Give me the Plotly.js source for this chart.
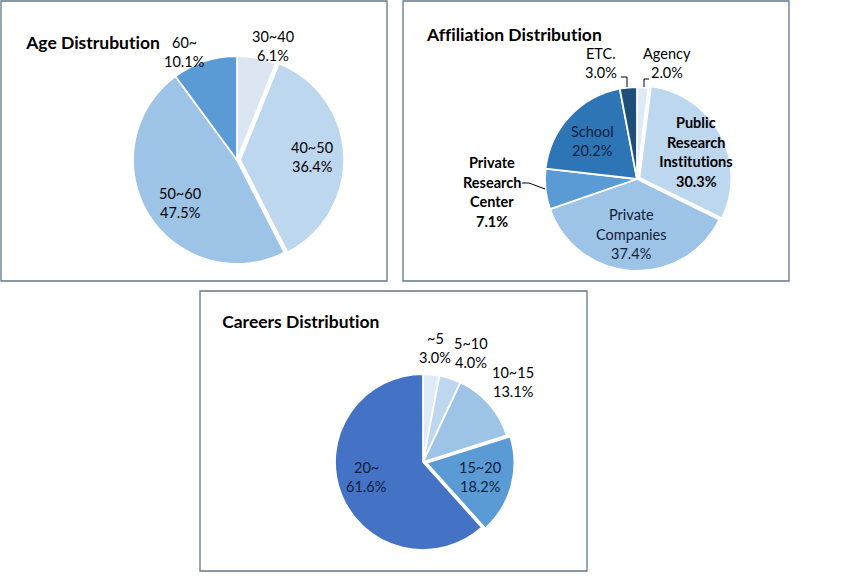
<!DOCTYPE html>
<html>
<head>
<meta charset="utf-8">
<script src="https://cdn.plot.ly/plotly-3.0.1.min.js"></script>
<style>
html,body{margin:0;padding:0;background:#fff;}
#chart{width:853px;height:580px;}
#chart text{font-variant-ligatures:none !important;font-feature-settings:"liga" 0,"clig" 0 !important;}
</style>
</head>
<body>
<div id="chart"></div>
<script>
// ---------- data ----------
const ageTitle = 'Age Distrubution';
const ageLabels = ['30~40', '40~50', '50~60', '60~'];
const ageValues = [6.1, 36.4, 47.5, 10.1];

const affTitle = 'Affiliation Distribution';
const affLabels = ['Agency', 'Public Research Institutions', 'Private Companies', 'Private Research Center', 'School', 'ETC.'];
const affValues = [2.0, 30.3, 37.4, 7.1, 20.2, 3.0];

const careerTitle = 'Careers Distribution';
const careerLabels = ['~5', '5~10', '10~15', '15~20', '20~'];
const careerValues = [3.0, 4.0, 13.1, 18.2, 61.6];

// ---------- layout / style ----------
const W = 853, H = 580;
const FONT = 'Lato, "Open Sans", sans-serif';
const px = x => x / W;
const py = y => 1 - y / H;

const pies = [
  { title: ageTitle, labels: ageLabels, values: ageValues,
    cx: 237, cy: 160, r: 104,
    pull: [0, 0.03, 0, 0],
    colors: ['#dce6f2', '#bdd7ee', '#9dc3e6', '#5b9bd5'],
    box: [1, 1, 387, 281], titlePos: [23, 42],
    labelPos: [[273, 46], [312, 157], [180, 203], [184, 52]],
    labelColor: ['#000', '#000', '#000', '#000'],
    wrap: [false, false, false, false], bold: [false, false, false, false] },
  { title: affTitle, labels: affLabels, values: affValues,
    cx: 637, cy: 179, r: 92,
    pull: [0, 0.03, 0, 0, 0, 0],
    colors: ['#deebf7', '#bdd7ee', '#9dc3e6', '#5b9bd5', '#2e75b6', '#1f4e79'],
    box: [403, 1, 789, 281], titlePos: [424, 35],
    labelPos: [[667, 63], [696, 152], [631, 234], [492, 192], [592, 141], [601, 63]],
    labelColor: ['#000', '#000', '#10203a', '#000', '#0f1e3c', '#000'],
    wrap: [false, true, true, true, false, false], bold: [false, true, false, true, false, false] },
  { title: careerTitle, labels: careerLabels, values: careerValues,
    cx: 423, cy: 462, r: 88,
    pull: [0, 0, 0, 0.04, 0],
    colors: ['#deebf7', '#bdd7ee', '#9dc3e6', '#5b9bd5', '#4472c4'],
    box: [200, 291, 587, 571], titlePos: [220, 321],
    labelPos: [[435, 348], [471, 353], [513, 382], [480, 477], [366, 477]],
    labelColor: ['#000', '#000', '#000', '#0f1e3c', '#0f1e3c'],
    wrap: [false, false, false, false, false], bold: [false, false, false, false, false] }
];

const LINE = 19.7;
const traces = [];
const annotations = [];
const shapes = [];

pies.forEach(p => {
  const maxPull = Math.max(...p.pull);
  const R = p.r * (1 + maxPull);
  traces.push({
    type: 'pie', labels: p.labels, values: p.values, sort: false,
    direction: 'clockwise', rotation: 0, pull: p.pull,
    marker: { colors: p.colors, line: { color: '#ffffff', width: 1.8 } },
    textinfo: 'none', hoverinfo: 'skip', showlegend: false,
    domain: { x: [px(p.cx - R), px(p.cx + R)], y: [py(p.cy + R), py(p.cy - R)] }
  });
  // frame
  const [x0, y0, x1, y1] = p.box;
  shapes.push({ type: 'rect', xref: 'paper', yref: 'paper',
    x0: px(x0), x1: px(x1), y0: py(y1), y1: py(y0),
    line: { color: '#62778a', width: 1.3 }, fillcolor: 'rgba(0,0,0,0)' });
  // title
  annotations.push({ xref: 'paper', yref: 'paper', x: px(p.titlePos[0]), y: py(p.titlePos[1]),
    xanchor: 'left', yanchor: 'middle', showarrow: false,
    text: '<b>' + p.title + '</b>', font: { family: FONT, size: 17.5, color: '#000' } });
  // data labels
  p.labels.forEach((lab, i) => {
    const lines = (p.wrap[i] ? lab.split(' ') : [lab]).concat([p.values[i].toFixed(1) + '%']);
    const [lx, ly] = p.labelPos[i];
    lines.forEach((t, k) => {
      const yy = ly + (k - (lines.length - 1) / 2) * LINE;
      annotations.push({ xref: 'paper', yref: 'paper', x: px(lx), y: py(yy),
        xanchor: 'center', yanchor: 'middle', showarrow: false,
        text: p.bold[i] ? '<b>' + t + '</b>' : t,
        font: { family: FONT, size: 14.5, color: p.labelColor[i] } });
    });
  });
});

// leader lines (pixel paths)
const leaders = [
  [[621, 77], [627, 77], [627, 87]],
  [[644, 87], [644, 79], [649, 79]],
  [[522, 183], [529, 183], [545, 189]]
];
leaders.forEach(pts => {
  for (let i = 0; i < pts.length - 1; i++) {
    shapes.push({ type: 'line', xref: 'paper', yref: 'paper',
      x0: px(pts[i][0]), y0: py(pts[i][1]), x1: px(pts[i + 1][0]), y1: py(pts[i + 1][1]),
      line: { color: '#000', width: 1 } });
  }
});

const layout = {
  width: W, height: H,
  margin: { l: 0, r: 0, t: 0, b: 0 },
  paper_bgcolor: '#ffffff', plot_bgcolor: '#ffffff',
  showlegend: false,
  font: { family: FONT },
  annotations: annotations,
  shapes: shapes
};

Plotly.newPlot('chart', traces, layout, { staticPlot: true, displayModeBar: false });
</script>
</body>
</html>
